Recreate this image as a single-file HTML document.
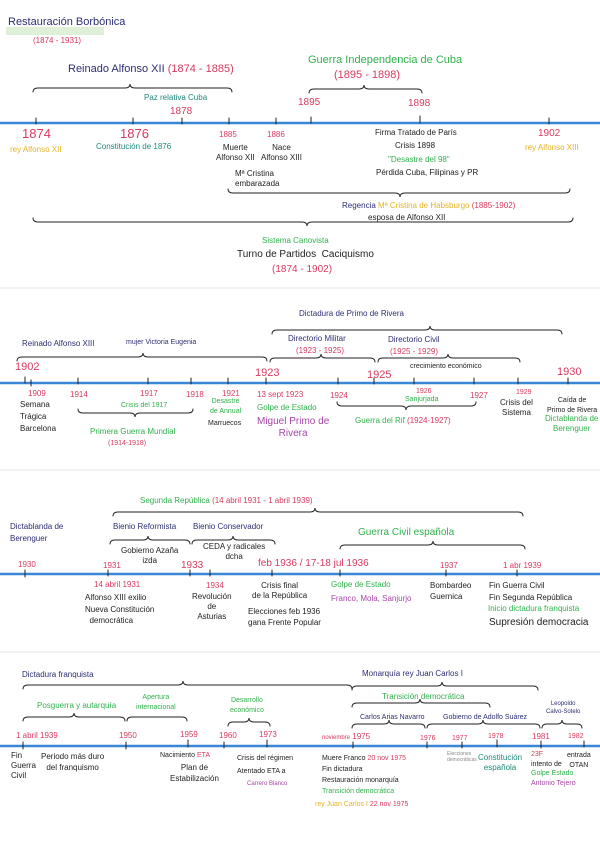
<!DOCTYPE html>
<html><head><meta charset="utf-8"><style>
body{margin:0;width:600px;height:848px;background:#fff;position:relative;overflow:hidden;font-family:"Liberation Sans",sans-serif;color:#222;}
div.t{position:absolute;white-space:nowrap;font-size:8px;line-height:10px;}
.n{color:#2c2f72}.r{color:#d93a5e}.g{color:#2fb24c}.y{color:#e6b325}.tl{color:#1c8a7c}.p{color:#a646a6}
div.b{font-size:10px;line-height:12px}
div.d{font-size:11px}
svg{position:absolute;left:0;top:0}
</style></head><body>
<svg width="600" height="848" fill="none" stroke-linecap="round">
<g stroke="#e6e6e6" stroke-width="1"><line x1="0" y1="288" x2="600" y2="288"/><line x1="0" y1="470" x2="600" y2="470"/><line x1="0" y1="652" x2="600" y2="652"/></g>
<rect x="6" y="27" width="98" height="8" fill="#dff0d8"/>
<g stroke="#3a86d6" stroke-width="2.5"><line x1="0" y1="123" x2="600" y2="123"/><line x1="0" y1="383" x2="600" y2="383"/><line x1="0" y1="574" x2="600" y2="574"/><line x1="0" y1="746" x2="600" y2="746"/></g>
<g stroke="#222" stroke-width="1">
<path d="M36 118v6M133 118v6M182 118v6M229 118v6M276 118v6M311 117v6M420 116v7M549 118v6"/>
<path d="M25 377v6M31 380v6M78 378v6M148 378v6M191 378v6M228 378v6M266 378v6M338 378v6M374 378v6M414 378v6M474 378v6M518 378v6M568 378v6"/>
<path d="M25 570v7M108 570v6M190 570v6M210 570v6M272 570v6M340 570v6M446 570v6M517 570v6"/>
<path d="M23 742v7M126 742v7M188 740v7M224 742v6M267 740v7M353 742v6M427 742v6M462 742v6M497 740v7M541 741v7M584 741v6"/>
<path d="M33 92Q33 88 38 88L125 88Q130 88 130 84Q130 88 135 88L227 88Q232 88 232 92"/>
<path d="M309 93Q309 89 314 89L359 89Q364 89 364 85Q364 89 369 89L417 89Q422 89 422 93"/>
<path d="M272 334Q272 330 277 330L425 330Q430 330 430 326Q430 330 435 330L557 330Q562 330 562 334"/>
<path d="M17 361Q17 357 22 357L138 357Q143 357 143 353Q143 357 148 357L262 357Q267 357 267 361"/>
<path d="M270 362Q270 358 275 358L316 358Q321 358 321 354Q321 358 326 358L370 358Q375 358 375 362"/>
<path d="M378 362Q378 358 383 358L443 358Q448 358 448 354Q448 358 453 358L515 358Q520 358 520 362"/>
<path d="M113 516Q113 512 118 512L310 512Q315 512 315 508Q315 512 320 512L518 512Q523 512 523 516"/>
<path d="M110 544Q110 540 115 540L143 540Q148 540 148 536Q148 540 153 540L185 540Q190 540 190 544"/>
<path d="M192 544Q192 540 197 540L228 540Q233 540 233 536Q233 540 238 540L270 540Q275 540 275 544"/>
<path d="M340 549Q340 545 345 545L428 545Q433 545 433 541Q433 545 438 545L520 545Q525 545 525 549"/>
<path d="M23 689Q23 685 28 685L178 685Q183 685 183 681Q183 685 188 685L347 685Q352 685 352 689"/>
<path d="M352 690Q352 686 357 686L437 686Q442 686 442 682Q442 686 447 686L533 686Q538 686 538 690"/>
<path d="M352 707Q352 703 357 703L415 703Q420 703 420 699Q420 703 425 703L485 703Q490 703 490 707"/>
<path d="M23 721Q23 717 28 717L69 717Q74 717 74 713Q74 717 79 717L120 717Q125 717 125 721"/>
<path d="M127 721Q127 717 132 717L182 717Q187 717 187 721"/>
<path d="M228 726Q228 722 233 722L244 722Q249 722 249 718Q249 722 254 722L265 722Q270 722 270 726"/>
<path d="M352 728Q352 724 357 724L384 724Q389 724 389 720Q389 724 394 724L420 724Q425 724 425 728"/>
<path d="M427 728Q427 724 432 724L478 724Q483 724 483 720Q483 724 488 724L535 724Q540 724 540 728"/>
<path d="M542 728Q542 724 547 724L557 724Q562 724 562 720Q562 724 567 724L577 724Q582 724 582 728"/>
<path d="M228 189Q228 193 233 193L395 193Q400 193 400 197Q400 193 405 193L565 193Q570 193 570 189"/>
<path d="M33 218Q33 222 38 222L302 222Q307 222 307 226Q307 222 312 222L568 222Q573 222 573 218"/>
<path d="M78 409Q78 413 83 413L130 413Q135 413 135 417Q135 413 140 413L188 413Q193 413 193 409"/>
<path d="M337 402Q337 406 342 406L401 406Q406 406 406 410Q406 406 411 406L471 406Q476 406 476 402"/>
</g></svg>

<div class="t n d" style="left:8px;top:17px">Restauración Borbónica</div>
<div class="t r" style="left:33px;top:36px">(1874 - 1931)</div>
<div class="t n d" style="left:68px;top:64px">Reinado Alfonso XII <span class="r">(1874 - 1885)</span></div>
<div class="t tl" style="left:144px;top:93px">Paz relativa Cuba</div>
<div class="t r b" style="left:170px;top:106px">1878</div>
<div class="t g d" style="left:308px;top:55px">Guerra Independencia de Cuba</div>
<div class="t r d" style="left:334px;top:70px">(1895 - 1898)</div>
<div class="t r b" style="left:298px;top:97px">1895</div>
<div class="t r b" style="left:408px;top:98px">1898</div>
<div class="t r" style="left:22px;top:126px;font-size:13px;line-height:15px">1874</div>
<div class="t y" style="left:10px;top:145px">rey Alfonso XII</div>
<div class="t r" style="left:120px;top:126px;font-size:13px;line-height:15px">1876</div>
<div class="t tl" style="left:96px;top:142px">Constitución de 1876</div>
<div class="t r" style="left:219px;top:130px">1885</div>
<div class="t" style="left:216px;top:143px;text-align:center">Muerte<br>Alfonso XII</div>
<div class="t r" style="left:267px;top:130px">1886</div>
<div class="t" style="left:261px;top:143px;text-align:center">Nace<br>Alfonso XIII</div>
<div class="t" style="left:235px;top:169px">Mª Cristina<br>embarazada</div>
<div class="t" style="left:375px;top:128px">Firma Tratado de París</div>
<div class="t" style="left:395px;top:141px">Crisis 1898</div>
<div class="t g" style="left:388px;top:155px">"Desastre del 98"</div>
<div class="t" style="left:376px;top:168px">Pérdida Cuba, Filipinas y PR</div>
<div class="t r b" style="left:538px;top:128px">1902</div>
<div class="t y" style="left:525px;top:143px">rey Alfonso XIII</div>
<div class="t n" style="left:342px;top:201px">Regencia <span class="y">Mª Cristina de Habsburgo</span> <span class="r">(1885-1902)</span></div>
<div class="t" style="left:368px;top:213px">esposa de Alfonso XII</div>
<div class="t g" style="left:262px;top:236px">Sistema Canovista</div>
<div class="t b" style="left:237px;top:249px">Turno de Partidos&nbsp; Caciquismo</div>
<div class="t r b" style="left:272px;top:264px">(1874 - 1902)</div>

<div class="t n" style="left:299px;top:309px">Dictadura de Primo de Rivera</div>
<div class="t n" style="left:22px;top:339px">Reinado Alfonso XIII</div>
<div class="t n" style="left:126px;top:338px;font-size:7px">mujer Victoria Eugenia</div>
<div class="t n" style="left:288px;top:334px">Directorio Militar</div>
<div class="t r" style="left:296px;top:346px">(1923 - 1925)</div>
<div class="t n" style="left:388px;top:335px">Directorio Civil</div>
<div class="t r" style="left:390px;top:347px">(1925 - 1929)</div>
<div class="t" style="left:410px;top:362px;font-size:7px">crecimiento económico</div>
<div class="t r d" style="left:15px;top:362px">1902</div>
<div class="t r d" style="left:255px;top:368px">1923</div>
<div class="t r d" style="left:367px;top:370px">1925</div>
<div class="t r d" style="left:557px;top:367px">1930</div>
<div class="t r" style="left:28px;top:389px">1909</div>
<div class="t" style="left:20px;top:399px;line-height:12px">Semana<br>Trágica<br>Barcelona</div>
<div class="t r" style="left:70px;top:390px">1914</div>
<div class="t r" style="left:140px;top:389px">1917</div>
<div class="t g" style="left:121px;top:401px;font-size:7px">Crisis del 1917</div>
<div class="t r" style="left:186px;top:390px">1918</div>
<div class="t g" style="left:90px;top:427px">Primera Guerra Mundial</div>
<div class="t r" style="left:108px;top:439px;font-size:7px">(1914-1918)</div>
<div class="t r" style="left:222px;top:389px">1921</div>
<div class="t g" style="left:210px;top:397px;text-align:center;font-size:7px">Desastre<br>de Annual</div>
<div class="t" style="left:208px;top:419px;font-size:7px">Marruecos</div>
<div class="t r" style="left:257px;top:390px">13 sept 1923</div>
<div class="t g" style="left:257px;top:403px">Golpe de Estado</div>
<div class="t p b" style="left:257px;top:416px;text-align:center">Miguel Primo de<br>Rivera</div>
<div class="t r" style="left:330px;top:391px">1924</div>
<div class="t r" style="left:416px;top:387px;font-size:7px">1926</div>
<div class="t g" style="left:405px;top:395px;font-size:7px">Sanjurjada</div>
<div class="t r" style="left:470px;top:391px">1927</div>
<div class="t g" style="left:355px;top:416px">Guerra del Rif <span class="r">(1924-1927)</span></div>
<div class="t r" style="left:516px;top:388px;font-size:7px">1929</div>
<div class="t" style="left:500px;top:398px;text-align:center">Crisis del<br>Sistema</div>
<div class="t" style="left:547px;top:396px;text-align:center;font-size:7px">Caída de<br>Primo de Rivera</div>
<div class="t g" style="left:545px;top:414px;text-align:center">Dictablanda de<br>Berenguer</div>

<div class="t g" style="left:140px;top:496px">Segunda República <span class="r">(14 abril 1931 - 1 abril 1939)</span></div>
<div class="t n" style="left:10px;top:521px;line-height:12px">Dictablanda de<br>Berenguer</div>
<div class="t n" style="left:113px;top:522px">Bienio Reformista</div>
<div class="t n" style="left:193px;top:522px">Bienio Conservador</div>
<div class="t g b" style="left:358px;top:527px">Guerra Civil española</div>
<div class="t" style="left:121px;top:546px;text-align:center">Gobierno Azaña<br>izda</div>
<div class="t" style="left:203px;top:542px;text-align:center">CEDA y radicales<br>dcha</div>
<div class="t r" style="left:18px;top:560px">1930</div>
<div class="t r" style="left:103px;top:561px">1931</div>
<div class="t r b" style="left:181px;top:560px">1933</div>
<div class="t r b" style="left:258px;top:558px">feb 1936 / 17-18 jul 1936</div>
<div class="t r" style="left:440px;top:561px">1937</div>
<div class="t r" style="left:503px;top:561px">1 abr 1939</div>
<div class="t r" style="left:94px;top:580px">14 abril 1931</div>
<div class="t" style="left:85px;top:592px;line-height:11.5px">Alfonso XIII exilio<br>Nueva Constitución<br>&nbsp;&nbsp;democrática</div>
<div class="t r" style="left:206px;top:581px">1934</div>
<div class="t" style="left:192px;top:592px;text-align:center">Revolución<br>de<br>Asturias</div>
<div class="t" style="left:252px;top:581px;text-align:center">Crisis final<br>de la República</div>
<div class="t" style="left:248px;top:606px;line-height:11px">Elecciones feb 1936<br>gana Frente Popular</div>
<div class="t g" style="left:331px;top:580px">Golpe de Estado</div>
<div class="t p" style="left:331px;top:594px">Franco, Mola, Sanjurjo</div>
<div class="t" style="left:430px;top:580px;line-height:11px">Bombardeo<br>Guernica</div>
<div class="t" style="left:489px;top:580px;line-height:12px">Fin Guerra Civil<br>Fin Segunda República</div>
<div class="t g" style="left:488px;top:604px">Inicio dictadura franquista</div>
<div class="t b" style="left:489px;top:617px">Supresión democracia</div>

<div class="t n" style="left:22px;top:670px">Dictadura franquista</div>
<div class="t n" style="left:362px;top:669px">Monarquía rey Juan Carlos I</div>
<div class="t g" style="left:382px;top:692px">Transición democrática</div>
<div class="t g" style="left:37px;top:701px">Posguerra y autarquía</div>
<div class="t g" style="left:136px;top:693px;text-align:center;font-size:7px">Apertura<br>internacional</div>
<div class="t g" style="left:230px;top:696px;text-align:center;font-size:7px">Desarrollo<br>económico</div>
<div class="t n" style="left:360px;top:713px;font-size:7px">Carlos Arias Navarro</div>
<div class="t n" style="left:443px;top:713px;font-size:7px">Gobierno de Adolfo Suárez</div>
<div class="t n" style="left:546px;top:700px;text-align:center;font-size:6px;line-height:8px">Leopoldo<br>Calvo-Sotelo</div>
<div class="t r" style="left:16px;top:731px">1 abril 1939</div>
<div class="t r" style="left:119px;top:731px">1950</div>
<div class="t r" style="left:180px;top:730px">1959</div>
<div class="t r" style="left:219px;top:731px">1960</div>
<div class="t r" style="left:259px;top:730px">1973</div>
<div class="t r" style="left:322px;top:732px"><span style="font-size:6px">noviembre</span> 1975</div>
<div class="t r" style="left:420px;top:734px;font-size:7px">1976</div>
<div class="t r" style="left:452px;top:734px;font-size:7px">1977</div>
<div class="t r" style="left:488px;top:732px;font-size:7px">1978</div>
<div class="t r" style="left:532px;top:732px">1981</div>
<div class="t r" style="left:568px;top:732px;font-size:7px">1982</div>
<div class="t" style="left:11px;top:751px;line-height:10px">Fin<br>Guerra<br>Civil</div>
<div class="t" style="left:41px;top:751px;text-align:center;line-height:11px">Periodo más duro<br>del franquismo</div>
<div class="t" style="left:160px;top:751px;font-size:7px">Nacimiento <span class="r">ETA</span></div>
<div class="t" style="left:170px;top:762px;text-align:center;line-height:11px">Plan de<br>Estabilización</div>
<div class="t" style="left:237px;top:754px;font-size:7px">Crisis del régimen</div>
<div class="t" style="left:237px;top:767px;font-size:7px">Atentado ETA a</div>
<div class="t p" style="left:247px;top:779px;font-size:6px">Carrero Blanco</div>
<div class="t" style="left:322px;top:753px;font-size:7px;line-height:11px">Muere Franco <span class="r">20 nov 1975</span><br>Fin dictadura<br>Restauración monarquía<br><span class="g">Transición democrática</span></div>
<div class="t y" style="left:315px;top:800px;font-size:7px">rey Juan Carlos I <span class="r">22 nov 1975</span></div>
<div class="t" style="left:447px;top:751px;font-size:5px;line-height:6px;color:#888">Elecciones<br>democráticas</div>
<div class="t tl" style="left:478px;top:753px;text-align:center">Constitución<br>española</div>
<div class="t" style="left:531px;top:750px;font-size:7px;line-height:9.5px"><span class="r">23F</span><br>intento de<br><span class="g">Golpe Estado</span><br><span class="p">Antonio Tejero</span></div>
<div class="t" style="left:567px;top:751px;font-size:7px;text-align:center">entrada<br>OTAN</div>
</body></html>
